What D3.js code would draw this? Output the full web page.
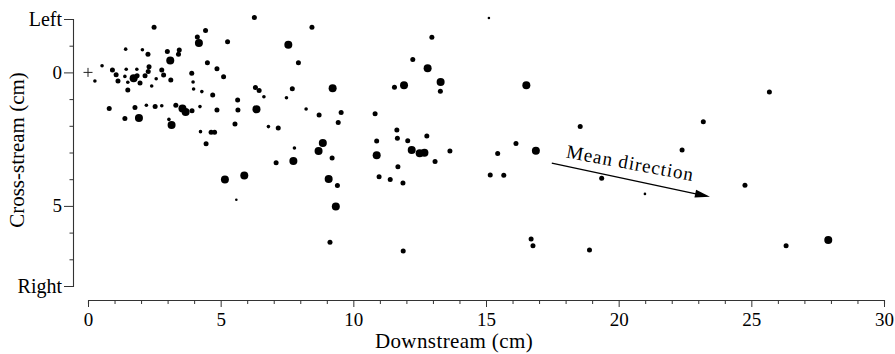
<!DOCTYPE html>
<html>
<head>
<meta charset="utf-8">
<script src="https://cdn.jsdelivr.net/npm/d3@7"></script>
<style>
  body { margin: 0; background: #fff; }
  svg text { font-family: "Liberation Serif", "Times New Roman", serif; fill: #000; }
</style>
</head>
<body>
<script>
// positions of the marked particles, cm
const downstream = [
    2.49, 4.43, 4.12, 4.18, 1.42, 2.05, 2.26, 2.99, 3.44, 3.41,
    3.10, 4.50, 4.86, 5.11, 0.53, 0.26, 0.92, 1.06, 1.13, 1.44,
    1.39, 1.50, 1.72, 1.85, 1.84, 1.96, 2.15, 2.27, 2.30, 2.40,
    2.57, 2.78, 2.85, 3.12, 3.91, 3.96, 3.98, 4.29, 4.70, 4.86,
    1.50, 0.80, 1.77, 2.20, 2.53, 2.78, 3.31, 3.56, 3.68, 3.92,
    4.22, 1.39, 1.92, 3.05, 3.15, 4.24, 4.64, 4.77, 4.45, 6.27,
    8.44, 5.26, 7.55, 7.93, 6.31, 6.45, 6.63, 7.70, 7.48, 9.22,
    5.64, 5.65, 6.35, 8.22, 8.71, 9.54, 9.43, 5.54, 6.80, 7.17,
    7.78, 8.85, 8.69, 7.09, 7.74, 9.20, 5.16, 5.89, 5.59, 9.07,
    9.40, 9.34, 9.12, 15.11, 12.96, 12.24, 12.80, 11.55, 11.91, 13.29,
    13.28, 16.52, 10.82, 11.64, 11.66, 10.88, 12.05, 12.77, 10.88, 12.20,
    12.50, 12.68, 13.64, 13.08, 11.68, 10.97, 11.39, 11.87, 11.88, 16.13,
    15.44, 16.88, 15.16, 15.67, 16.70, 16.77, 18.55, 23.19, 22.39, 19.36,
    20.99, 25.68, 24.76, 18.90, 26.31, 27.90
];
const crossStream = [
    -1.69, -1.57, -1.33, -1.10, -0.87, -0.85, -0.68, -0.78, -0.84, -0.68,
    -0.45, -0.36, -0.14, 0.16, -0.25, 0.32, -0.09, 0.09, 0.32, -0.12,
    0.15, 0.37, 0.22, 0.13, -0.12, 0.40, 0.13, -0.03, -0.21, 0.51,
    0.24, -0.09, 0.10, 0.28, 0.03, 0.36, 0.62, 0.72, 0.85, 1.41,
    0.66, 1.35, 1.31, 1.23, 1.28, 1.25, 1.23, 1.35, 1.48, 1.44,
    1.28, 1.73, 1.71, 1.76, 1.97, 2.22, 2.24, 2.24, 2.67, -2.06,
    -1.69, -1.15, -1.04, -0.36, 0.57, 0.68, 0.91, 0.61, 0.95, 0.59,
    1.03, 1.41, 1.38, 1.37, 1.60, 1.50, 1.88, 1.93, 2.03, 2.08,
    2.83, 2.64, 2.94, 3.38, 3.32, 3.21, 4.01, 3.86, 4.77, 3.99,
    4.24, 5.02, 6.36, -2.04, -1.32, -0.48, -0.16, 0.56, 0.48, 0.36,
    0.71, 0.48, 1.55, 2.16, 2.47, 2.57, 2.56, 2.38, 3.10, 2.91,
    3.03, 3.01, 2.94, 3.34, 3.53, 3.91, 4.01, 4.14, 6.69, 2.66,
    3.04, 2.93, 3.84, 3.85, 6.24, 6.49, 2.03, 1.85, 2.91, 3.96,
    4.55, 0.73, 4.23, 6.65, 6.49, 6.28
];
// size class of each dot (1 smallest .. 4 largest)
const sizeClass = [
    3, 3, 3, 4, 2, 2, 3, 3, 3, 3,
    4, 3, 3, 3, 2, 2, 3, 3, 3, 2,
    2, 2, 4, 3, 2, 3, 3, 3, 3, 2,
    2, 3, 3, 3, 3, 2, 2, 2, 3, 3,
    3, 3, 3, 2, 3, 2, 3, 4, 4, 3,
    2, 3, 4, 2, 4, 2, 3, 3, 3, 3,
    3, 3, 4, 3, 3, 3, 2, 3, 2, 4,
    3, 3, 4, 2, 3, 3, 3, 3, 2, 3,
    2, 4, 4, 3, 4, 3, 4, 4, 1, 4,
    3, 4, 3, 1, 3, 3, 4, 3, 4, 4,
    3, 4, 3, 3, 3, 3, 3, 3, 4, 4,
    4, 4, 3, 3, 3, 3, 3, 3, 3, 3,
    3, 4, 3, 3, 3, 3, 3, 3, 3, 3,
    1, 3, 3, 3, 3, 4
];

const xTicks = d3.range(0, 31, 1);
const xLabelEvery = 5;
const yTicks = d3.range(-2, 9, 1);
const yLabelValues = [-2, 0, 5, 8];
const yLabelTexts = ["Left", "0", "5", "Right"];

// mean direction arrow, start and end (downstream, cross-stream)
const arrowFrom = [17.48, 3.40];
const arrowTo = [23.44, 4.66];

const width = 895;
const height = 354;

const x = d3.scaleLinear().domain([0, 30]).range([88, 884]);
const y = d3.scaleLinear().domain([-2, 8]).range([19, 286]);
const r = d3.scaleOrdinal().domain([1, 2, 3, 4]).range([1.3, 1.8, 2.5, 4]);

const points = downstream.map((d, i) => ({ x: d, y: crossStream[i], s: sizeClass[i] }));

const svg = d3.select("body").append("svg")
    .attr("width", width)
    .attr("height", height);

// x axis
const ax = svg.append("g")
    .attr("transform", "translate(0,300)")
    .call(d3.axisBottom(x)
        .tickValues(xTicks)
        .tickSizeOuter(0)
        .tickSize(4)
        .tickFormat(d => d % xLabelEvery === 0 ? d : ""));
ax.select(".domain").attr("stroke", "#333").attr("stroke-width", 1.1);
ax.selectAll(".tick line").attr("stroke", "#333")
    .attr("y2", d => d % xLabelEvery === 0 ? 7 : 4);
ax.selectAll(".tick text")
    .attr("y", 13)
    .style("font-size", "19px")
    .attr("fill", "#000");

// y axis
const yLabel = d => {
    const k = yLabelValues.indexOf(d);
    return k < 0 ? "" : yLabelTexts[k];
};
const ay = svg.append("g")
    .attr("transform", "translate(73,0)")
    .call(d3.axisLeft(y)
        .tickValues(yTicks)
        .tickSizeOuter(0)
        .tickSize(9)
        .tickFormat(yLabel));
ay.select(".domain").attr("stroke", "#333").attr("stroke-width", 1.1);
ay.selectAll(".tick line").attr("stroke", "#333")
    .attr("x2", d => (d === 0 || d === 5) ? -9 : (yLabel(d) ? -5 : -3.5));
ay.selectAll(".tick text")
    .attr("x", -11)
    .style("font-size", d => (d === 0 || d === 5) ? "19px" : "20px")
    .attr("fill", "#000");

// axis titles
svg.append("text")
    .attr("x", 454)
    .attr("y", 348)
    .attr("text-anchor", "middle")
    .style("font-size", "21px")
    .style("letter-spacing", "0.4px")
    .text("Downstream (cm)");

svg.append("text")
    .attr("transform", "translate(24,150) rotate(-90)")
    .attr("text-anchor", "middle")
    .style("font-size", "21px")
    .text("Cross-stream (cm)");

// release point
svg.append("path")
    .attr("transform", `translate(${x(0)},${y(0)})`)
    .attr("d", "M-4.5,0H4.5M0,-4.5V4.5")
    .attr("stroke", "#222")
    .attr("stroke-width", 1);

// particles
svg.append("g")
    .selectAll("circle")
    .data(points)
    .enter()
    .append("circle")
    .attr("cx", d => x(d.x))
    .attr("cy", d => y(d.y))
    .attr("r", d => r(d.s))
    .attr("fill", "#000");

// mean direction arrow
const x1 = x(arrowFrom[0]), y1 = y(arrowFrom[1]);
const x2 = x(arrowTo[0]), y2 = y(arrowTo[1]);
const ang = Math.atan2(y2 - y1, x2 - x1);
const deg = ang * 180 / Math.PI;
const headLen = 15, headW = 4;

svg.append("line")
    .attr("x1", x1).attr("y1", y1)
    .attr("x2", x2 - headLen * Math.cos(ang) * 0.8)
    .attr("y2", y2 - headLen * Math.sin(ang) * 0.8)
    .attr("stroke", "#000")
    .attr("stroke-width", 1.4);

svg.append("path")
    .attr("transform", `translate(${x2},${y2}) rotate(${deg})`)
    .attr("d", `M0,0L${-headLen},${-headW}L${-headLen},${headW}Z`)
    .attr("fill", "#000");

const mx = (x1 + x2) / 2, my = (y1 + y2) / 2;
svg.append("text")
    .attr("transform", `translate(${mx - 4 + 11 * Math.sin(ang)},${my - 11 * Math.cos(ang)}) rotate(${deg - 1.5})`)
    .attr("text-anchor", "middle")
    .style("font-size", "19px")
    .style("letter-spacing", "1px")
    .text("Mean direction");
</script>
</body>
</html>
